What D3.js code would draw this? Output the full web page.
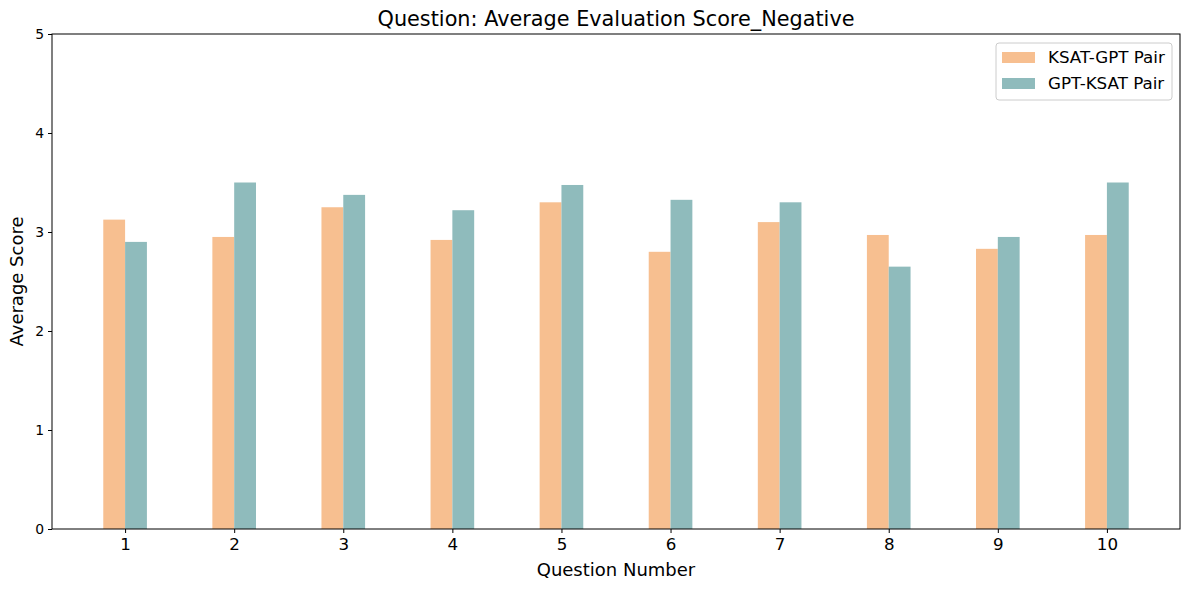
<!DOCTYPE html>
<html>
<head>
<meta charset="utf-8">
<title>Average Evaluation Score_Negative</title>
<script src="https://d3js.org/d3.v7.min.js"></script>
<style>
  body { margin: 0; background: #fff; font-family: "DejaVu Sans", sans-serif; }
  .axis path, .axis line { stroke: #000; stroke-width: 1; }
</style>
</head>
<body>
<div id="chart"></div>
<script>
// ---- data ----
const questions = [1, 2, 3, 4, 5, 6, 7, 8, 9, 10];
const ksatGpt = [3.125, 2.95, 3.25, 2.92, 3.3, 2.8, 3.1, 2.97, 2.83, 2.97];
const gptKsat = [2.9, 3.5, 3.375, 3.22, 3.475, 3.325, 3.3, 2.65, 2.95, 3.5];
const seriesNames = ["KSAT-GPT Pair", "GPT-KSAT Pair"];
const seriesColors = ["#f7bf90", "#8fbbbc"];
const yTicks = [0, 1, 2, 3, 4, 5];

// ---- layout ----
const W = 1189, H = 590;
const margin = {top: 34, right: 9, bottom: 61, left: 52};
const width = W - margin.left - margin.right,
      height = H - margin.top - margin.bottom;
const barW = 0.2;

const svg = d3.select("#chart").append("svg")
    .attr("width", W).attr("height", H);
const g = svg.append("g")
    .attr("transform", "translate(" + margin.left + "," + margin.top + ")");

// matplotlib-ish 5% margins around the bar extent
const lo = 1 - barW, hi = 10 + barW, pad = (hi - lo) * 0.05;
const x = d3.scaleLinear().domain([lo - pad, hi + pad]).range([0, width]);
const y = d3.scaleLinear().domain([0, 5]).range([height, 0]);

// bars
const series = [ksatGpt, gptKsat];
series.forEach(function(vals, s) {
  g.append("g").selectAll("rect")
    .data(vals)
    .enter().append("rect")
    .attr("x", (d, i) => x(questions[i] + (s === 0 ? -barW : 0)))
    .attr("width", x(barW) - x(0))
    .attr("y", d => y(d))
    .attr("height", d => y(0) - y(d))
    .attr("fill", seriesColors[s]);
});

// axes
g.append("g").attr("class", "axis")
  .attr("transform", "translate(0," + height + ")")
  .call(d3.axisBottom(x).tickValues(questions).tickSize(4).tickPadding(5).tickFormat(d3.format("d")))
  .call(a => a.select(".domain").remove())
  .selectAll("text").style("font-size", "16.7px").style("font-family", "DejaVu Sans").attr("fill", "#000");

g.append("g").attr("class", "axis")
  .call(d3.axisLeft(y).tickValues(yTicks).tickSize(4).tickPadding(4).tickFormat(d3.format("d")))
  .call(a => a.select(".domain").remove())
  .selectAll("text").style("font-size", "13.9px").style("font-family", "DejaVu Sans").attr("fill", "#000");

// frame
g.append("rect")
  .attr("width", width).attr("height", height)
  .attr("fill", "none").attr("stroke", "#000").attr("stroke-width", 1);

// title & labels
svg.append("text")
  .attr("x", margin.left + width / 2).attr("y", 26)
  .attr("text-anchor", "middle")
  .style("font-size", "20.8px")
  .text("Question: Average Evaluation Score_Negative");

svg.append("text")
  .attr("x", margin.left + width / 2).attr("y", 576)
  .attr("text-anchor", "middle")
  .style("font-size", "18px")
  .text("Question Number");

svg.append("text")
  .attr("transform", "translate(23," + (margin.top + height / 2) + ") rotate(-90)")
  .attr("text-anchor", "middle")
  .style("font-size", "18px")
  .text("Average Score");

// legend
const lg = svg.append("g").attr("transform", "translate(996,43)");
lg.append("rect")
  .attr("width", 176).attr("height", 57).attr("rx", 3)
  .attr("fill", "#fff").attr("fill-opacity", 0.8)
  .attr("stroke", "#ccc");
seriesNames.forEach(function(name, i) {
  lg.append("rect")
    .attr("x", 6).attr("y", 9 + i * 26)
    .attr("width", 33).attr("height", 11)
    .attr("fill", seriesColors[i]);
  lg.append("text")
    .attr("x", 52).attr("y", 20 + i * 26)
    .style("font-size", "16.7px")
    .text(name);
});
</script>
</body>
</html>
